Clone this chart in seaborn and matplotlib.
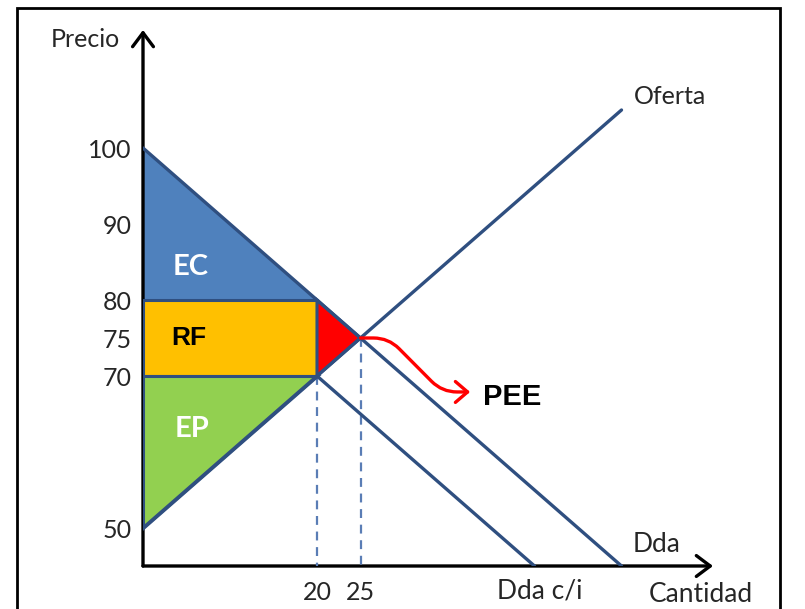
import matplotlib
matplotlib.use("Agg")
import matplotlib.pyplot as plt
from matplotlib.patches import Rectangle
import seaborn as sns

# ---------- datos del gráfico ----------
precio_ticks = [50, 70, 75, 80, 90, 100]
cantidad_ticks = [20, 25]

# curvas (extremos de cada recta)
oferta_q = [0, 55]
oferta_p = [50, 105]
dda_q = [0, 55]
dda_p = [100, 45]
dda_ci_q = [20, 45]
dda_ci_p = [70, 45]

# áreas
ec_q = [0, 0, 20]
ec_p = [100, 80, 80]
rf_q = [0, 20, 20, 0]
rf_p = [70, 70, 80, 80]
ep_q = [0, 0, 20]
ep_p = [50, 70, 70]
pee_q = [20, 20, 25]
pee_p = [70, 80, 75]

q_eq, p_eq = 25, 75          # equilibrio sin impuesto
q_imp, p_imp = 20, 70        # cantidad con impuesto

# ---------- estilo ----------
sns.set_style("white")
plt.rcParams['font.family'] = ['Lato', 'DejaVu Sans']

AZUL_LINEA = "#2F4F80"
fig = plt.figure(figsize=(8.05, 6.09), dpi=100)
ax = fig.add_axes([143 / 805, 43 / 609, 570 / 805, 536 / 609])
ax.set_xlim(0, 570 / 8.7)
ax.set_ylim(45, 45 + 536 / 7.6)
for s in ax.spines.values():
    s.set_visible(False)

# áreas de excedentes
ax.fill(ec_q, ec_p, color="#4F81BD", lw=0, zorder=1)
ax.fill(rf_q, rf_p, facecolor="#FFC000", edgecolor=AZUL_LINEA, lw=2.2, zorder=3)
ax.fill(ep_q, ep_p, facecolor="#92D050", edgecolor=AZUL_LINEA, lw=2.2, zorder=3)
ax.fill(pee_q, pee_p, facecolor="#FF0000", edgecolor=AZUL_LINEA, lw=2.2, zorder=3)

# ejes con flechas
flecha = dict(arrowstyle="->,head_length=0.4,head_width=0.3", color="black",
              lw=2.4, mutation_scale=25, shrinkA=0, shrinkB=0)
ax.annotate("", xy=(0, 1), xytext=(0, 0), xycoords="axes fraction",
            arrowprops=flecha, zorder=2, annotation_clip=False)
ax.annotate("", xy=(1, 0), xytext=(0, 0), xycoords="axes fraction",
            arrowprops=flecha, zorder=2, annotation_clip=False)

# curvas de oferta y demanda
sns.lineplot(x=oferta_q, y=oferta_p, ax=ax, color=AZUL_LINEA, lw=2.4, zorder=4)
sns.lineplot(x=dda_q, y=dda_p, ax=ax, color=AZUL_LINEA, lw=2.4, zorder=4)
sns.lineplot(x=dda_ci_q, y=dda_ci_p, ax=ax, color=AZUL_LINEA, lw=2.4, zorder=4)

# líneas punteadas
ax.plot([q_imp, q_imp], [p_imp, 45], ls=(0, (4, 3)), color="#5A7DB5", lw=1.6, zorder=2)
ax.plot([q_eq, q_eq], [p_eq, 45], ls=(0, (4, 3)), color="#5A7DB5", lw=1.6, zorder=2)

# ticks
ax.set_yticks(precio_ticks)
ax.set_yticklabels([str(v) for v in precio_ticks])
ax.set_xticks(cantidad_ticks)
ax.set_xticklabels([str(v) for v in cantidad_ticks])
ax.tick_params(axis="y", length=0, pad=8, labelsize=18)
ax.tick_params(axis="x", length=0, pad=11, labelsize=18)

# textos
ax.text(-2.6, 113.3, "Precio", ha="right", va="baseline", fontsize=18)
ax.text(64.1, 40.2, "Cantidad", ha="center", va="baseline", fontsize=19)
ax.text(56.4, 105.8, "Oferta", ha="left", va="baseline", fontsize=18)
ax.text(56.3, 46.8, "Dda", ha="left", va="baseline", fontsize=19)
ax.text(45.6, 40.7, "Dda c/i", ha="center", va="baseline", fontsize=19)

ax.text(5.5, 84.3, "EC", ha="center", va="center", fontsize=21,
        fontweight="bold", color="white", zorder=5)
ax.text(5.3, 75, "RF", ha="center", va="center", fontsize=19,
        fontweight="bold", color="black", family=["Liberation Sans"], zorder=5)
ax.text(5.6, 63, "EP", ha="center", va="center", fontsize=21,
        fontweight="bold", color="white", zorder=5)

# flecha roja hacia PEE
ax.annotate("", xy=(37.6, 67.9), xytext=(q_eq, p_eq),
            arrowprops=dict(arrowstyle="->,head_length=0.35,head_width=0.3",
                            connectionstyle="arc,angleA=0,angleB=180,armA=28,armB=28,rad=15",
                            color="red", lw=2.4, mutation_scale=25,
                            shrinkA=0, shrinkB=0), zorder=5)
ax.text(39.1, 67.2, "PEE", ha="left", va="center", fontsize=21,
        fontweight="bold", color="black", family=["Liberation Sans"])

# marco exterior
fig.add_artist(Rectangle((17 / 805, -0.05), (780 - 17) / 805, (609 - 8) / 609 + 0.05,
                         transform=fig.transFigure, fill=False, lw=2, ec="black"))

fig.savefig("out.png", dpi=100)
